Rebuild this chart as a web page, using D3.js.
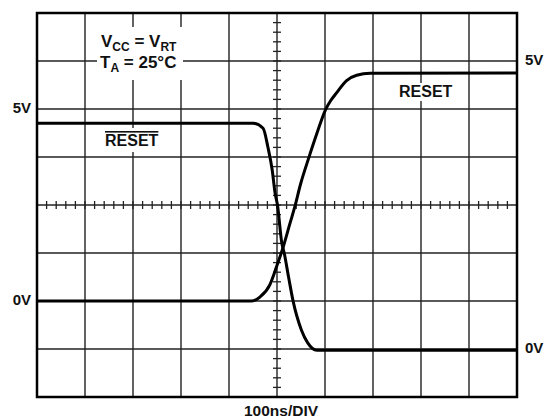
<!DOCTYPE html>
<html>
<head>
<meta charset="utf-8">
<script src="https://cdn.jsdelivr.net/npm/d3@7"></script>
<style>
  body { margin: 0; background: #fff; }
  text { font-family: "Liberation Sans", Arial, sans-serif; font-weight: bold; fill: #111; }
</style>
</head>
<body>
<script>
// scope trace, 100ns/DIV, volts read against the left-hand labels
var timeNs = [0, 446, 465, 485, 499, 513, 527, 537, 549, 566, 583, 601, 612, 624, 645, 666, 694, 1000];
var resetV = [0, 0, 0.11, 0.42, 0.89, 1.41, 2.02, 2.45, 3.04, 3.72, 4.36, 4.98, 5.22, 5.42, 5.74, 5.88, 5.93, 5.94];

var timeBarNs = [0, 450, 471, 481, 490, 496, 501, 510, 515, 524, 533, 551, 564, 583, 1000];
var resetBarV = [4.63, 4.63, 4.50, 4.01, 3.41, 2.81, 2.50, 1.51, 1.25, 0.63, 0.03, -0.76, -1.09, -1.28, -1.28];

var leftLabels = [{v: 5, t: "5V"}, {v: 0, t: "0V"}];
var rightLabels = [{v: 5, t: "5V"}, {v: 0, t: "0V"}];

var opts = {
  width: 546,
  height: 419,
  left: 37, right: 517, top: 13, bottom: 397
};

var svg = d3.select('body').append('svg')
  .attr('width', opts.width)
  .attr('height', opts.height);

var x = d3.scaleLinear().domain([0, 1000]).range([opts.left, opts.right]);
// left channel: 1.25V/div, 8 divisions
var y = d3.scaleLinear().domain([-2.5, 7.5]).range([opts.bottom, opts.top]);
// right-hand labels use their own scale (0V and 5V six divisions apart)
var yR = d3.scaleLinear().domain([-5 / 6, 35 / 6]).range([opts.bottom, opts.top]);

var gridX = d3.range(100, 1000, 100);
var gridY = d3.range(-1.25, 7.5, 1.25);

//grid
svg.append('g').selectAll('line').data(gridX).enter().append('line')
  .attr('x1', function(d) { return x(d); }).attr('x2', function(d) { return x(d); })
  .attr('y1', opts.top).attr('y2', opts.bottom)
  .attr('stroke', '#222').attr('stroke-width', 1.4);

svg.append('g').selectAll('line').data(gridY).enter().append('line')
  .attr('y1', function(d) { return y(d); }).attr('y2', function(d) { return y(d); })
  .attr('x1', opts.left).attr('x2', opts.right)
  .attr('stroke', '#222').attr('stroke-width', 1.4);

//minor ticks on the centre lines
var minorX = d3.range(20, 1000, 20);
var minorY = d3.range(-2.25, 7.5, 0.25);
var tickLen = 4;

svg.append('g').selectAll('line').data(minorX).enter().append('line')
  .attr('x1', function(d) { return x(d); }).attr('x2', function(d) { return x(d); })
  .attr('y1', y(2.5) - tickLen).attr('y2', y(2.5) + tickLen)
  .attr('stroke', '#222').attr('stroke-width', 1.3);

svg.append('g').selectAll('line').data(minorY).enter().append('line')
  .attr('y1', function(d) { return y(d); }).attr('y2', function(d) { return y(d); })
  .attr('x1', x(500) - tickLen).attr('x2', x(500) + tickLen)
  .attr('stroke', '#222').attr('stroke-width', 1.3);

//white boxes behind the annotations
var boxes = [
  {x0: 97, x1: 183, y0: 27, y1: 80},
  {x0: 100, x1: 162, y0: 128, y1: 152},
  {x0: 396, x1: 456, y0: 83, y1: 101}
];
svg.append('g').selectAll('rect').data(boxes).enter().append('rect')
  .attr('x', function(d) { return d.x0; })
  .attr('y', function(d) { return d.y0; })
  .attr('width', function(d) { return d.x1 - d.x0; })
  .attr('height', function(d) { return d.y1 - d.y0; })
  .attr('fill', '#fff');

//traces
var line = d3.line()
  .x(function(d) { return x(d[0]); })
  .y(function(d) { return y(d[1]); })
  .curve(d3.curveMonotoneX);

svg.append('path')
  .datum(d3.zip(timeNs, resetV))
  .attr('d', line)
  .attr('fill', 'none').attr('stroke', '#000').attr('stroke-width', 3);

svg.append('path')
  .datum(d3.zip(timeBarNs, resetBarV))
  .attr('d', line)
  .attr('fill', 'none').attr('stroke', '#000').attr('stroke-width', 3);

//frame
svg.append('rect')
  .attr('x', opts.left).attr('y', opts.top)
  .attr('width', opts.right - opts.left).attr('height', opts.bottom - opts.top)
  .attr('fill', 'none').attr('stroke', '#000').attr('stroke-width', 2.5);

//voltage labels
svg.append('g').selectAll('text').data(leftLabels).enter().append('text')
  .attr('x', 31).attr('y', function(d) { return y(d.v) + 4; })
  .attr('text-anchor', 'end').attr('font-size', 15)
  .text(function(d) { return d.t; });

svg.append('g').selectAll('text').data(rightLabels).enter().append('text')
  .attr('x', 525).attr('y', function(d) { return yR(d.v) + 3.5; })
  .attr('font-size', 15)
  .text(function(d) { return d.t; });

//trace names
svg.append('text').attr('x', 399).attr('y', 97).attr('font-size', 16).text('RESET');

var bar = svg.append('text').attr('x', 105).attr('y', 146).attr('font-size', 16)
  .attr('text-decoration', 'overline').text('RESET');

//conditions
var c1 = svg.append('text').attr('x', 101).attr('y', 47).attr('font-size', 17);
c1.append('tspan').text('V');
c1.append('tspan').attr('font-size', 12).attr('dy', 4).text('CC');
c1.append('tspan').attr('dy', -4).text(' = V');
c1.append('tspan').attr('font-size', 12).attr('dy', 4).text('RT');

var c2 = svg.append('text').attr('x', 100).attr('y', 68).attr('font-size', 17);
c2.append('tspan').text('T');
c2.append('tspan').attr('font-size', 12).attr('dy', 4).text('A');
c2.append('tspan').attr('dy', -4).text(' = 25°C');

svg.append('text').attr('x', 281).attr('y', 416)
  .attr('text-anchor', 'middle').attr('font-size', 15.5)
  .text('100ns/DIV');
</script>
</body>
</html>
